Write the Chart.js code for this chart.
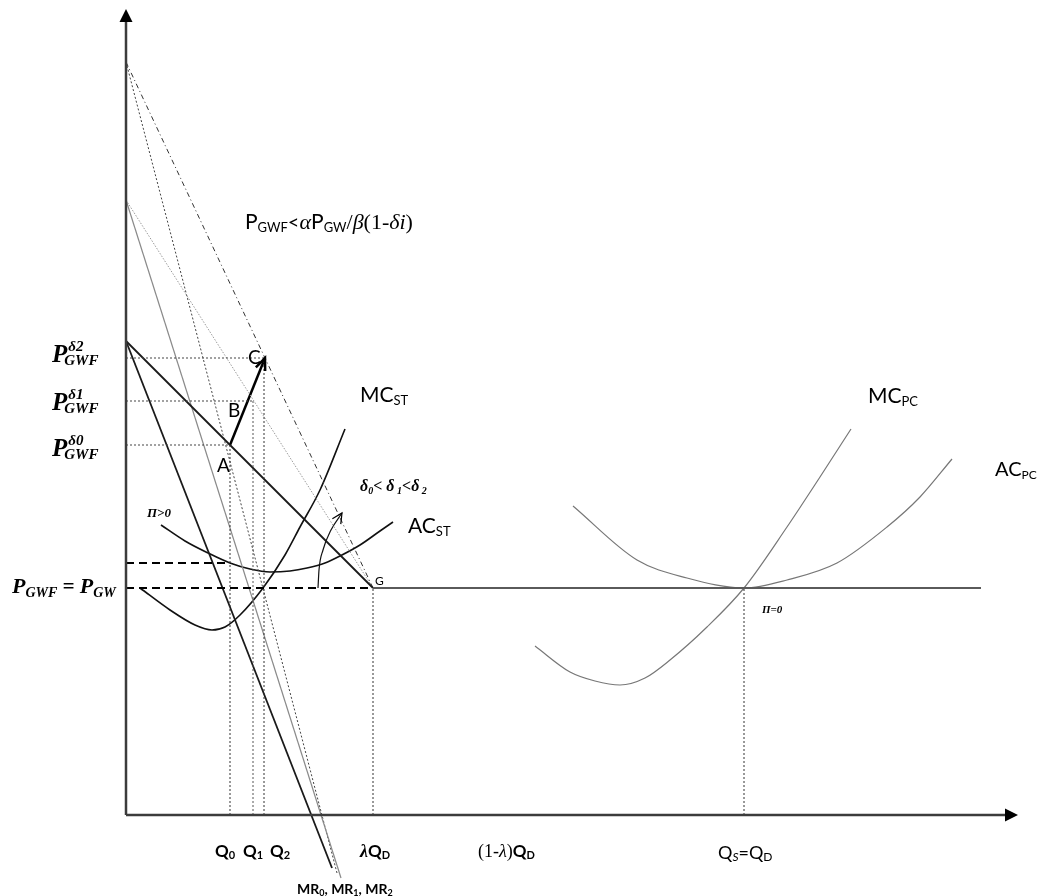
<!DOCTYPE html>
<html>
<head>
<meta charset="utf-8">
<script src="https://cdn.jsdelivr.net/npm/chart.js@4.4.1/dist/chart.umd.min.js"></script>
<style>
  body { margin: 0; background: #fff; }
  canvas { display: block; }
</style>
</head>
<body>
<canvas id="chart" width="1039" height="896"></canvas>
<script>
// quantity (x) and price (y), origin at the axis corner
const quantities = { Q0: 104, Q1: 127, Q2: 138, lambdaQD: 247, QsQd: 618 };
const prices = { pGW: 227, pAC: 252, pD0: 370, pD1: 414, pD2: 457 };
const demandIntercepts = [474, 615, 753];          // delta0, delta1, delta2
const mrEnds = [[206, -53], [215, -63], [211, -58]];
const axisTop = 806, axisRight = 892, gwLineEnd = 855;

const mcST = [[14,227],[44,205],[69,190],[86,185],[99,188],[114,200],[137,227],[159,260],[174,288],[194,325],[219,386]];
const acST = [[35,290],[59,274],[82,262],[104,252],[124,246],[144,243],[164,244],[181,247],[199,252],[214,259],[234,270],[254,284],[267,293]];
const mcPC = [[409,169],[444,143],[469,134],[494,130],[519,137],[544,155],[581,188],[618,227],[661,288],[694,338],[725,386]];
const acPC = [[447,309],[511,255],[561,237],[618,227],[661,235],[711,252],[761,288],[794,318],[826,356]];
const deltaArrow = [[192,227],[193,245],[197,265],[205,285],[216,302]];

const SANS = 'Lato, "Open Sans", sans-serif';
const SERIF = '"Liberation Serif", "DejaVu Serif", serif';

function pts(a) { return a.map(p => ({ x: p[0], y: p[1] })); }
function line(a, color, width, dash, curve) {
    return {
        data: pts(a), showLine: true, pointRadius: 0, fill: false,
        borderColor: color, borderWidth: width, borderDash: dash || [],
        cubicInterpolationMode: curve ? 'monotone' : 'default', tension: 0
    };
}

const G = [quantities.lambdaQD, prices.pGW];
const A = [quantities.Q0, prices.pD0];
const C = [quantities.Q2 + 1, prices.pD2];

const datasets = [
    // axes
    line([[0, 0], [0, axisTop - 8]], '#3c3c3c', 2.5),
    line([[0, 0], [axisRight - 8, 0]], '#3c3c3c', 2.5),
    // price guides
    line([[0, prices.pAC], [quantities.Q0, prices.pAC]], '#000', 2, [8, 5]),
    line([[0, prices.pGW], G], '#000', 2, [8, 5]),
    line([G, [gwLineEnd, prices.pGW]], '#5a5a5a', 2),
    line([[0, prices.pD2], [quantities.Q2 + 1, prices.pD2]], '#444', 1, [2, 2]),
    line([[0, prices.pD1], [quantities.Q1, prices.pD1]], '#444', 1, [2, 2]),
    line([[0, prices.pD0], [quantities.Q0, prices.pD0]], '#444', 1, [2, 2]),
    // quantity guides
    line([[quantities.Q0, 0], [quantities.Q0, prices.pD0]], '#333', 1, [2, 2]),
    line([[quantities.Q1, 0], [quantities.Q1, prices.pD1]], '#555', 1, [2, 2]),
    line([[quantities.Q2, 0], [quantities.Q2, prices.pD2]], '#333', 1, [2, 2]),
    line([[quantities.lambdaQD, 0], G], '#333', 1, [2, 2]),
    line([[quantities.QsQd, 0], [quantities.QsQd, prices.pGW]], '#333', 1, [2, 2]),
    // demand and marginal revenue lines
    line([[0, demandIntercepts[0]], G], '#1a1a1a', 1.8),
    line([[0, demandIntercepts[1]], G], '#9a9a9a', 1, [1.5, 1.5]),
    line([[0, demandIntercepts[2]], G], '#333', 1, [5, 3, 1, 3]),
    line([[0, demandIntercepts[0]], mrEnds[0]], '#1a1a1a', 1.8),
    line([[0, demandIntercepts[1]], mrEnds[1]], '#8a8a8a', 1.2),
    line([[0, demandIntercepts[2]], mrEnds[2]], '#444', 1, [2, 2]),
    // cost curves
    line(mcST, '#111', 1.6, null, true),
    line(acST, '#111', 1.6, null, true),
    line(mcPC, '#777', 1.2, null, true),
    line(acPC, '#777', 1.2, null, true),
    // arrows
    line([A, C], '#000', 2.5),
    line(deltaArrow, '#111', 1.2, null, true)
];

const BI = s => 'bold italic ' + s + 'px ' + SERIF;
const labels = [
    { at: [119, 586], runs: [['P', '21px ' + SANS], ['GWF', '13px ' + SANS, 3], ['<', '20px ' + SANS], ['α', 'italic 22px ' + SERIF], ['P', '21px ' + SANS], ['GW', '13px ' + SANS, 3], ['/', '22px ' + SERIF], ['β', 'italic 22px ' + SERIF], ['(1-', '22px ' + SERIF], ['δi', 'italic 22px ' + SERIF], [')', '22px ' + SERIF]] },
    { at: [-74, 453], runs: [['P', BI(25)], { sup: 'δ2', sub: 'GWF', font: BI(15) }] },
    { at: [-74, 405], runs: [['P', BI(25)], { sup: 'δ1', sub: 'GWF', font: BI(15) }] },
    { at: [-74, 359], runs: [['P', BI(25)], { sup: 'δ0', sub: 'GWF', font: BI(15) }] },
    { at: [-114, 222], runs: [['P', BI(22)], ['GWF', BI(14), 4], [' = ', BI(21)], ['P', BI(22)], ['GW', BI(14), 4]] },
    { at: [234, 413], runs: [['MC', '21px ' + SANS], ['ST', '13px ' + SANS, 3]] },
    { at: [282, 282], runs: [['AC', '21px ' + SANS], ['ST', '13px ' + SANS, 3]] },
    { at: [234, 324], runs: [['δ', BI(16)], ['0', BI(10), 3], ['< ', BI(16)], ['δ', BI(16)], [' 1', BI(10), 3], ['<', BI(16)], ['δ', BI(16)], [' 2', BI(10), 3]] },
    { at: [21, 298], runs: [['Π>0', BI(13)]] },
    { at: [91, 343], runs: [['A', '19px ' + SANS]] },
    { at: [102, 398], runs: [['B', '19px ' + SANS]] },
    { at: [122, 451], runs: [['C', '19px ' + SANS]] },
    { at: [249, 230], runs: [['G', '12px ' + SANS]] },
    { at: [742, 412], runs: [['MC', '21px ' + SANS], ['PC', '13px ' + SANS, 3]] },
    { at: [869, 339], runs: [['AC', '20px ' + SANS], ['PC', '12px ' + SANS, 3]] },
    { at: [636, 202], runs: [['Π=0', BI(11)]] },
    { at: [89, -42], runs: [['Q', 'bold 17px ' + SANS], ['0', 'bold 11px ' + SANS, 2]] },
    { at: [117, -42], runs: [['Q', 'bold 17px ' + SANS], ['1', 'bold 11px ' + SANS, 2]] },
    { at: [144, -42], runs: [['Q', 'bold 17px ' + SANS], ['2', 'bold 11px ' + SANS, 2]] },
    { at: [234, -42], runs: [['λ', 'bold italic 18px ' + SERIF], ['Q', 'bold 17px ' + SANS], ['D', 'bold 11px ' + SANS, 2]] },
    { at: [352, -42], runs: [['(1-', '18px ' + SERIF], ['λ', 'italic 18px ' + SERIF], [')', '18px ' + SERIF], ['Q', 'bold 17px ' + SANS], ['D', 'bold 11px ' + SANS, 2]] },
    { at: [171, -79], runs: [['MR', 'bold 14px ' + SANS], ['0', 'bold 9px ' + SANS, 2], [', MR', 'bold 14px ' + SANS], ['1', 'bold 9px ' + SANS, 2], [', MR', 'bold 14px ' + SANS], ['2', 'bold 9px ' + SANS, 2]] },
    { at: [592, -44], runs: [['Q', '18px ' + SANS], ['S', 'italic 12px ' + SANS, 2], ['=Q', '18px ' + SANS], ['D', '12px ' + SANS, 2]] }
];

function arrowHead(ctx, from, to, len, half, filled) {
    const a = Math.atan2(to.y - from.y, to.x - from.x);
    const bx = to.x - len * Math.cos(a), by = to.y - len * Math.sin(a);
    const nx = -Math.sin(a) * half, ny = Math.cos(a) * half;
    ctx.beginPath();
    ctx.moveTo(bx + nx, by + ny);
    ctx.lineTo(to.x, to.y);
    ctx.lineTo(bx - nx, by - ny);
    if (filled) { ctx.closePath(); ctx.fill(); } else { ctx.stroke(); }
}

const decor = {
    id: 'decor',
    afterDatasetsDraw(chart) {
        const ctx = chart.ctx, sx = chart.scales.x, sy = chart.scales.y;
        const P = p => ({ x: sx.getPixelForValue(p[0]), y: sy.getPixelForValue(p[1]) });
        ctx.save();
        ctx.fillStyle = '#000';
        ctx.strokeStyle = '#000';
        ctx.setLineDash([]);
        arrowHead(ctx, P([0, 0]), P([0, axisTop]), 13, 6.5, true);
        arrowHead(ctx, P([0, 0]), P([axisRight, 0]), 13, 6.5, true);
        ctx.lineWidth = 2.5;
        arrowHead(ctx, P(A), P(C), 12, 5, false);
        ctx.lineWidth = 1.2;
        const n = deltaArrow.length;
        arrowHead(ctx, P(deltaArrow[n - 2]), P(deltaArrow[n - 1]), 10, 5, false);

        ctx.textBaseline = 'alphabetic';
        labels.forEach(l => {
            const p = P(l.at);
            let x = p.x;
            l.runs.forEach(r => {
                if (Array.isArray(r)) {
                    ctx.font = r[1];
                    ctx.fillText(r[0], x, p.y + (r[2] || 0));
                    x += ctx.measureText(r[0]).width;
                } else {
                    ctx.font = r.font;
                    ctx.fillText(r.sup, x + 1, p.y - 11);
                    ctx.fillText(r.sub, x - 3, p.y + 3);
                }
            });
        });
        ctx.restore();
    }
};

new Chart(document.getElementById('chart'), {
    type: 'scatter',
    data: { datasets: datasets },
    options: {
        responsive: false,
        animation: false,
        devicePixelRatio: 1,
        layout: { padding: 0 },
        scales: {
            x: { type: 'linear', min: -126, max: 913, display: false },
            y: { type: 'linear', min: -81, max: 815, display: false }
        },
        plugins: { legend: { display: false }, tooltip: { enabled: false } }
    },
    plugins: [decor]
});
</script>
</body>
</html>
